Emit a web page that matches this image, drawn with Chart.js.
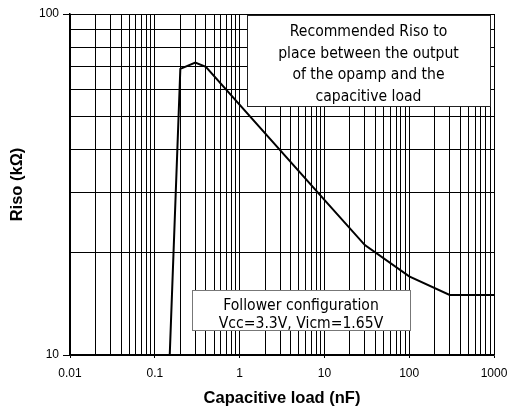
<!DOCTYPE html>
<html>
<head>
<meta charset="utf-8">
<script src="https://cdn.jsdelivr.net/npm/chart.js@4"></script>
<style>
  html, body { margin: 0; padding: 0; background: #fff; }
</style>
</head>
<body>
<canvas id="risoChart" width="509" height="410"></canvas>
<script>
// capacitive load (nF) and recommended Riso (kOhm)
const capLoad = [0.15, 0.2, 0.3, 0.4, 10, 30, 100, 300, 1000];
const riso = [10, 69, 72, 70, 28.5, 21, 17, 15, 15];

const xTickLabels = ['0.01', '0.1', '1', '10', '100', '1000'];
const yTickLabels = ['10', '100'];

const noteTop = ['Recommended Riso to', 'place between the output', 'of the opamp and the', 'capacitive load'];
const noteBottom = ['Follower configuration', 'Vcc=3.3V, Vicm=1.65V'];

function isDecade(v) {
    const l = Math.log10(v);
    return Math.abs(l - Math.round(l)) < 1e-6;
}

// 1..9 x 10^n grid between two decade labels
function logGrid(labels) {
    const lo = Math.round(Math.log10(parseFloat(labels[0])));
    const hi = Math.round(Math.log10(parseFloat(labels[labels.length - 1])));
    const out = [];
    for (let e = lo; e < hi; e++) {
        for (let m = 1; m < 10; m++) out.push({ value: parseFloat((m * Math.pow(10, e)).toPrecision(6)) });
    }
    out.push({ value: Math.pow(10, hi) });
    return out;
}

// the original uses a narrow Tahoma-like face, so DejaVu is squeezed a bit
const boxFont = '16px "DejaVu Sans", sans-serif';
const squeeze = 0.875;

function drawNote(ctx, lines, x, y, w, h, lineGap, firstBase, border) {
    ctx.save();
    ctx.fillStyle = '#fff';
    ctx.fillRect(x, y, w, h);
    ctx.strokeStyle = border;
    ctx.lineWidth = 1;
    ctx.strokeRect(x + 0.5, y + 0.5, w, h);
    ctx.fillStyle = '#000';
    ctx.font = boxFont;
    ctx.textAlign = 'center';
    ctx.textBaseline = 'alphabetic';
    lines.forEach((t, i) => {
        const tw = ctx.measureText(t).width * squeeze;
        ctx.fillText(t, x + w / 2, y + firstBase + i * lineGap, tw);
    });
    ctx.restore();
}

const notesPlugin = {
    id: 'notes',
    afterDatasetsDraw(chart) {
        const a = chart.chartArea;
        drawNote(chart.ctx, noteTop, a.left + 177, a.top + 1, 243, 91, 21.7, 21, '#222');
        drawNote(chart.ctx, noteBottom, a.left + 122, a.top + 276, 218, 40, 18.5, 19.5, '#777');
    }
};

const tickFont = { family: '"Liberation Sans", Arial, sans-serif', size: 12 };
const titleFont = { family: '"Liberation Sans", Arial, sans-serif', size: 16.5, weight: 'bold' };

const ctx = document.getElementById('risoChart').getContext('2d');
new Chart(ctx, {
    type: 'scatter',
    data: {
        datasets: [{
            data: capLoad.map((c, i) => ({ x: c, y: riso[i] })),
            showLine: true,
            borderColor: '#000',
            borderWidth: 2,
            pointRadius: 0,
            tension: 0
        }]
    },
    options: {
        responsive: false,
        animation: false,
        layout: { padding: { top: 14, right: 15, left: 0, bottom: 0 } },
        plugins: { legend: { display: false }, tooltip: { enabled: false } },
        scales: {
            x: {
                type: 'logarithmic',
                min: 0.01,
                max: 1000,
                afterBuildTicks: s => { s.ticks = logGrid(xTickLabels); },
                afterFit: s => { s.height = 55; s.paddingLeft = 0; s.paddingRight = 0; },
                border: { color: '#000', width: 1.5 },
                grid: {
                    color: '#000',
                    lineWidth: 1,
                    tickLength: 3,
                    tickColor: c => (c.tick && isDecade(c.tick.value) ? '#000' : 'rgba(0,0,0,0)')
                },
                ticks: {
                    autoSkip: false,
                    maxRotation: 0,
                    padding: 8,
                    color: '#000',
                    font: tickFont,
                    callback: v => (isDecade(v) ? xTickLabels[Math.round(Math.log10(v)) + 2] : '')
                },
                title: {
                    display: true,
                    text: 'Capacitive load (nF)',
                    color: '#000',
                    padding: { top: 0, bottom: 2 },
                    font: titleFont
                }
            },
            y: {
                type: 'logarithmic',
                min: 10,
                max: 100,
                afterBuildTicks: s => { s.ticks = logGrid(yTickLabels); },
                afterFit: s => { s.width = 70; s.paddingTop = 0; s.paddingBottom = 0; },
                border: { color: '#000', width: 1.5 },
                grid: {
                    color: '#000',
                    lineWidth: 1,
                    tickLength: 7,
                    tickColor: c => (c.tick && isDecade(c.tick.value) ? '#000' : 'rgba(0,0,0,0)')
                },
                ticks: {
                    autoSkip: false,
                    padding: 4,
                    color: '#000',
                    font: tickFont,
                    callback: v => (isDecade(v) ? yTickLabels[Math.round(Math.log10(v)) - 1] : '')
                },
                title: {
                    display: true,
                    text: 'Riso (kΩ)',
                    color: '#000',
                    padding: { top: 8, bottom: 0 },
                    font: titleFont
                }
            }
        }
    },
    plugins: [notesPlugin]
});
</script>
</body>
</html>
